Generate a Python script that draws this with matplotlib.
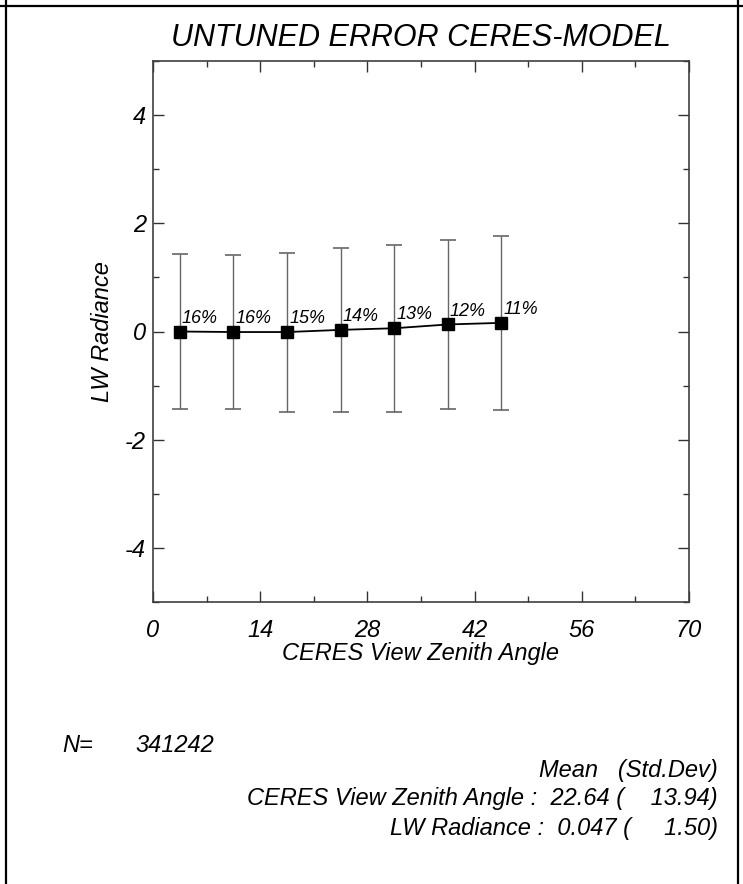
import matplotlib
matplotlib.use("Agg")
import matplotlib.pyplot as plt
from matplotlib.lines import Line2D
from matplotlib.ticker import MultipleLocator

# bin centres (view zenith angle) and per-bin stats of the LW radiance error
vza = [3.5, 10.5, 17.5, 24.5, 31.5, 38.5, 45.5]
mean_err = [0.00, -0.01, -0.01, 0.03, 0.06, 0.13, 0.16]
std_err = [1.43, 1.43, 1.47, 1.51, 1.54, 1.57, 1.61]
pct_labels = ["16%", "16%", "15%", "14%", "13%", "12%", "11%"]

title = "UNTUNED ERROR CERES-MODEL"
xlabel = "CERES View Zenith Angle"
ylabel = "LW Radiance"
n_obs = "341242"
summary = [
    "Mean   (Std.Dev)",
    "CERES View Zenith Angle :  22.64 (    13.94)",
    "LW Radiance :  0.047 (     1.50)",
]

FONT = ["Liberation Sans Narrow", "Liberation Sans", "DejaVu Sans"]
plt.rcParams["font.family"] = FONT
plt.rcParams["font.style"] = "italic"
plt.rcParams["axes.unicode_minus"] = False

W, H = 743, 884
fig = plt.figure(figsize=(W / 100, H / 100), dpi=100)
ax = fig.add_axes([153 / W, 1 - 602 / H, (689 - 153) / W, (602 - 61) / H])

ax.errorbar(vza, mean_err, yerr=std_err, fmt="none", ecolor="0.4",
            elinewidth=1.0, capsize=5.5, capthick=1.2, zorder=2)
ax.plot(vza, mean_err, color="black", lw=1.3, marker="s", ms=8.5,
        mfc="black", mec="black", zorder=3)
for x, y, s in zip(vza, mean_err, pct_labels):
    ax.annotate(s, (x, y), xytext=(1.5, 3.5), textcoords="offset points",
                ha="left", va="bottom", fontsize=13, style="italic")

ax.set_xlim(0, 70)
ax.set_ylim(-5, 5)
ax.xaxis.set_major_locator(MultipleLocator(14))
ax.xaxis.set_minor_locator(MultipleLocator(7))
ax.yaxis.set_minor_locator(MultipleLocator(1))
ax.set_yticks([-4, -2, 0, 2, 4])
ax.tick_params(which="both", direction="in", top=True, right=True,
               color="0.2", width=1.0)
ax.tick_params(which="major", length=8)
ax.tick_params(which="minor", length=4)
ax.tick_params(axis="x", pad=12, labelsize=17)
ax.tick_params(axis="y", pad=5, labelsize=17)
for lab in ax.get_xticklabels() + ax.get_yticklabels():
    lab.set_style("italic")
for sp in ax.spines.values():
    sp.set_color("0.25")
    sp.set_linewidth(1.2)

ax.set_xlabel(xlabel, fontsize=17, style="italic", labelpad=0)
ax.set_ylabel(ylabel, fontsize=17, style="italic", labelpad=8)
fig.text(421 / W, 1 - 38 / H, title, fontsize=22, style="italic",
         ha="center", va="center")

# statistics block below the plot
fig.text(62 / W, 1 - 745 / H, "N=", fontsize=17, style="italic", va="center")
fig.text(135 / W, 1 - 745 / H, n_obs, fontsize=17, style="italic", va="center")
for i, line in enumerate(summary):
    fig.text(718 / W, 1 - (770 + 29 * i) / H, line, fontsize=17,
             style="italic", ha="right", va="center")

# page frame
fig.add_artist(Line2D([0, 1], [1 - 6 / H, 1 - 6 / H], color="black", lw=1.6))
fig.add_artist(Line2D([6 / W, 6 / W], [0, 1], color="black", lw=1.6))
fig.add_artist(Line2D([738 / W, 738 / W], [0, 1], color="black", lw=1.6))

fig.savefig("out.png", dpi=100)
